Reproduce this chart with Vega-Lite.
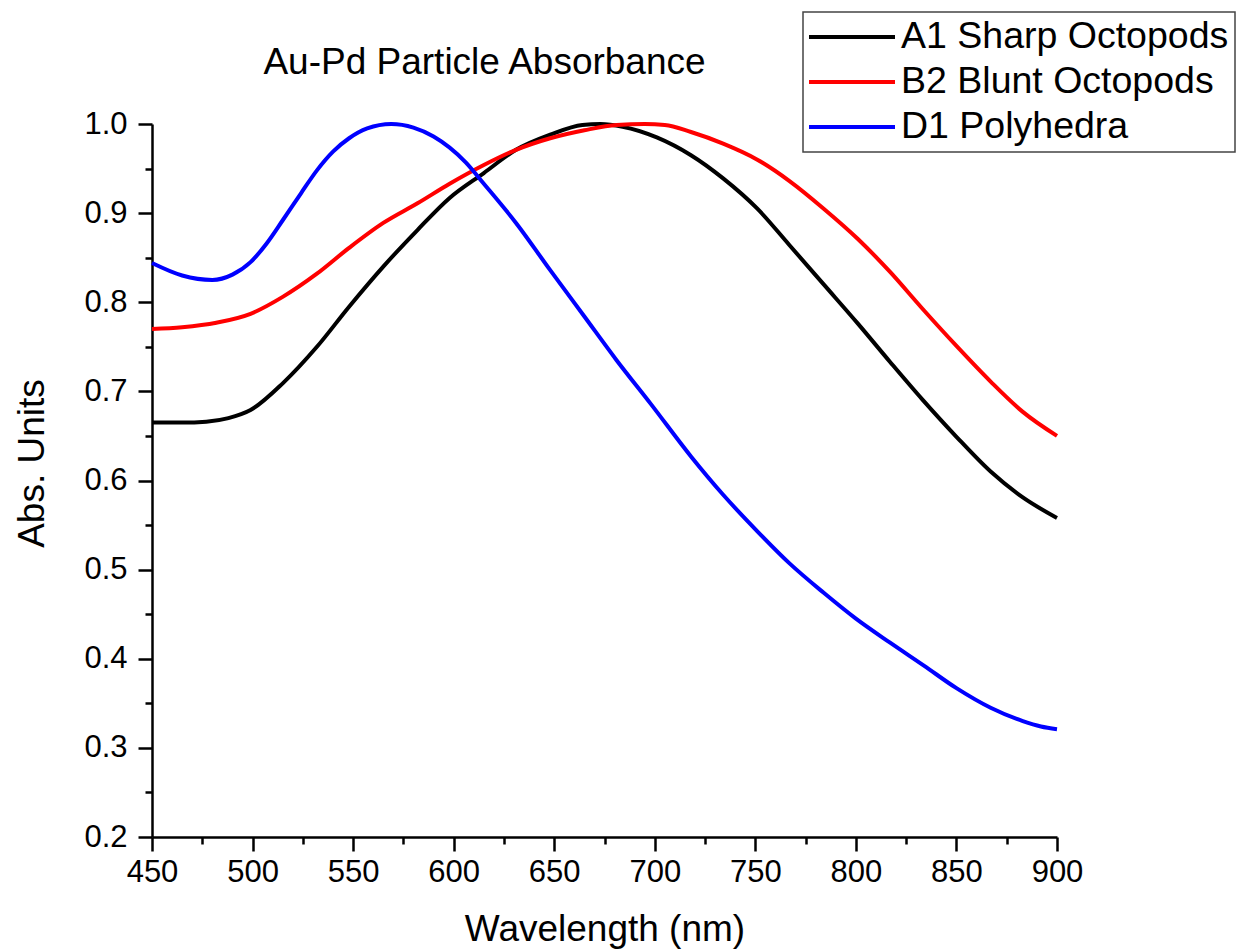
{
  "$schema": "https://vega.github.io/schema/vega-lite/v6.json",
  "width": 905,
  "height": 713,
  "autosize": {"type": "none"},
  "padding": {"left": 152, "top": 124, "right": 185, "bottom": 114},
  "background": "white",
  "config": {
    "view": {"stroke": null},
    "font": "Liberation Sans",
    "legend": {"strokeWidth": 1.5}
  },
  "title": {
    "text": "Au-Pd Particle Absorbance",
    "fontSize": 37,
    "fontWeight": "normal",
    "color": "black",
    "anchor": "middle",
    "dx": -120,
    "baseline": "alphabetic",
    "offset": -100
  },
  "data": {
    "values": [
      {"series": "A1 Sharp Octopods", "wl": 450, "abs": 0.665},
      {"series": "A1 Sharp Octopods", "wl": 465, "abs": 0.665},
      {"series": "A1 Sharp Octopods", "wl": 477, "abs": 0.666},
      {"series": "A1 Sharp Octopods", "wl": 488, "abs": 0.670},
      {"series": "A1 Sharp Octopods", "wl": 499, "abs": 0.679},
      {"series": "A1 Sharp Octopods", "wl": 515, "abs": 0.709},
      {"series": "A1 Sharp Octopods", "wl": 532, "abs": 0.750},
      {"series": "A1 Sharp Octopods", "wl": 548, "abs": 0.795},
      {"series": "A1 Sharp Octopods", "wl": 565, "abs": 0.840},
      {"series": "A1 Sharp Octopods", "wl": 582, "abs": 0.881},
      {"series": "A1 Sharp Octopods", "wl": 598, "abs": 0.917},
      {"series": "A1 Sharp Octopods", "wl": 615, "abs": 0.945},
      {"series": "A1 Sharp Octopods", "wl": 631, "abs": 0.971},
      {"series": "A1 Sharp Octopods", "wl": 648, "abs": 0.988},
      {"series": "A1 Sharp Octopods", "wl": 664, "abs": 0.999},
      {"series": "A1 Sharp Octopods", "wl": 673, "abs": 1.0},
      {"series": "A1 Sharp Octopods", "wl": 684, "abs": 0.997},
      {"series": "A1 Sharp Octopods", "wl": 701, "abs": 0.985},
      {"series": "A1 Sharp Octopods", "wl": 718, "abs": 0.965},
      {"series": "A1 Sharp Octopods", "wl": 734, "abs": 0.939},
      {"series": "A1 Sharp Octopods", "wl": 751, "abs": 0.905},
      {"series": "A1 Sharp Octopods", "wl": 767, "abs": 0.864},
      {"series": "A1 Sharp Octopods", "wl": 784, "abs": 0.820},
      {"series": "A1 Sharp Octopods", "wl": 801, "abs": 0.776},
      {"series": "A1 Sharp Octopods", "wl": 817, "abs": 0.733},
      {"series": "A1 Sharp Octopods", "wl": 833, "abs": 0.691},
      {"series": "A1 Sharp Octopods", "wl": 850, "abs": 0.649},
      {"series": "A1 Sharp Octopods", "wl": 867, "abs": 0.610},
      {"series": "A1 Sharp Octopods", "wl": 883, "abs": 0.581},
      {"series": "A1 Sharp Octopods", "wl": 900, "abs": 0.558},
      {"series": "B2 Blunt Octopods", "wl": 450, "abs": 0.770},
      {"series": "B2 Blunt Octopods", "wl": 465, "abs": 0.772},
      {"series": "B2 Blunt Octopods", "wl": 482, "abs": 0.777},
      {"series": "B2 Blunt Octopods", "wl": 499, "abs": 0.787},
      {"series": "B2 Blunt Octopods", "wl": 515, "abs": 0.806},
      {"series": "B2 Blunt Octopods", "wl": 532, "abs": 0.832},
      {"series": "B2 Blunt Octopods", "wl": 548, "abs": 0.861},
      {"series": "B2 Blunt Octopods", "wl": 565, "abs": 0.889},
      {"series": "B2 Blunt Octopods", "wl": 582, "abs": 0.911},
      {"series": "B2 Blunt Octopods", "wl": 598, "abs": 0.933},
      {"series": "B2 Blunt Octopods", "wl": 615, "abs": 0.954},
      {"series": "B2 Blunt Octopods", "wl": 631, "abs": 0.971},
      {"series": "B2 Blunt Octopods", "wl": 648, "abs": 0.984},
      {"series": "B2 Blunt Octopods", "wl": 665, "abs": 0.993},
      {"series": "B2 Blunt Octopods", "wl": 681, "abs": 0.999},
      {"series": "B2 Blunt Octopods", "wl": 695, "abs": 1.0},
      {"series": "B2 Blunt Octopods", "wl": 705, "abs": 0.999},
      {"series": "B2 Blunt Octopods", "wl": 718, "abs": 0.991},
      {"series": "B2 Blunt Octopods", "wl": 734, "abs": 0.978},
      {"series": "B2 Blunt Octopods", "wl": 751, "abs": 0.960},
      {"series": "B2 Blunt Octopods", "wl": 767, "abs": 0.936},
      {"series": "B2 Blunt Octopods", "wl": 784, "abs": 0.905},
      {"series": "B2 Blunt Octopods", "wl": 801, "abs": 0.871},
      {"series": "B2 Blunt Octopods", "wl": 817, "abs": 0.834},
      {"series": "B2 Blunt Octopods", "wl": 833, "abs": 0.793},
      {"series": "B2 Blunt Octopods", "wl": 850, "abs": 0.751},
      {"series": "B2 Blunt Octopods", "wl": 867, "abs": 0.711},
      {"series": "B2 Blunt Octopods", "wl": 883, "abs": 0.677},
      {"series": "B2 Blunt Octopods", "wl": 900, "abs": 0.650},
      {"series": "D1 Polyhedra", "wl": 450, "abs": 0.844},
      {"series": "D1 Polyhedra", "wl": 465, "abs": 0.830},
      {"series": "D1 Polyhedra", "wl": 480, "abs": 0.825},
      {"series": "D1 Polyhedra", "wl": 490, "abs": 0.831},
      {"series": "D1 Polyhedra", "wl": 499, "abs": 0.845},
      {"series": "D1 Polyhedra", "wl": 507, "abs": 0.866},
      {"series": "D1 Polyhedra", "wl": 515, "abs": 0.892},
      {"series": "D1 Polyhedra", "wl": 524, "abs": 0.922},
      {"series": "D1 Polyhedra", "wl": 532, "abs": 0.948},
      {"series": "D1 Polyhedra", "wl": 540, "abs": 0.969},
      {"series": "D1 Polyhedra", "wl": 548, "abs": 0.984},
      {"series": "D1 Polyhedra", "wl": 557, "abs": 0.995},
      {"series": "D1 Polyhedra", "wl": 569, "abs": 1.0},
      {"series": "D1 Polyhedra", "wl": 580, "abs": 0.996},
      {"series": "D1 Polyhedra", "wl": 590, "abs": 0.986},
      {"series": "D1 Polyhedra", "wl": 606, "abs": 0.957},
      {"series": "D1 Polyhedra", "wl": 615, "abs": 0.933},
      {"series": "D1 Polyhedra", "wl": 631, "abs": 0.889},
      {"series": "D1 Polyhedra", "wl": 648, "abs": 0.836},
      {"series": "D1 Polyhedra", "wl": 665, "abs": 0.784},
      {"series": "D1 Polyhedra", "wl": 681, "abs": 0.735},
      {"series": "D1 Polyhedra", "wl": 698, "abs": 0.686},
      {"series": "D1 Polyhedra", "wl": 718, "abs": 0.627},
      {"series": "D1 Polyhedra", "wl": 734, "abs": 0.584},
      {"series": "D1 Polyhedra", "wl": 751, "abs": 0.543},
      {"series": "D1 Polyhedra", "wl": 767, "abs": 0.507},
      {"series": "D1 Polyhedra", "wl": 784, "abs": 0.474},
      {"series": "D1 Polyhedra", "wl": 800, "abs": 0.445},
      {"series": "D1 Polyhedra", "wl": 817, "abs": 0.418},
      {"series": "D1 Polyhedra", "wl": 834, "abs": 0.392},
      {"series": "D1 Polyhedra", "wl": 850, "abs": 0.367},
      {"series": "D1 Polyhedra", "wl": 867, "abs": 0.345},
      {"series": "D1 Polyhedra", "wl": 883, "abs": 0.330},
      {"series": "D1 Polyhedra", "wl": 892, "abs": 0.324},
      {"series": "D1 Polyhedra", "wl": 900, "abs": 0.321}
    ]
  },
  "mark": {"type": "line", "strokeWidth": 4, "interpolate": "monotone"},
  "encoding": {
    "x": {
      "field": "wl",
      "type": "quantitative",
      "scale": {"domain": [450, 900], "nice": false, "zero": false},
      "axis": {
        "title": "Wavelength (nm)",
        "values": [450, 475, 500, 525, 550, 575, 600, 625, 650, 675, 700, 725, 750, 775, 800, 825, 850, 875, 900],
        "labelExpr": "datum.value % 50 === 0 ? datum.label : ''",
        "tickSize": {"condition": {"test": "datum.value % 50 === 0", "value": 14}, "value": 7},
        "tickWidth": 2.5,
        "tickColor": "black",
        "domainColor": "black",
        "domainWidth": 2.5,
        "grid": false,
        "labelFontSize": 31,
        "labelColor": "black",
        "labelPadding": 6,
        "labelFlush": false,
        "labelOverlap": false,
        "titleFontSize": 37,
        "titleFontWeight": "normal",
        "titleColor": "black",
        "titleY": 103,
        "titleBaseline": "alphabetic"
      }
    },
    "y": {
      "field": "abs",
      "type": "quantitative",
      "scale": {"domain": [0.2, 1.0], "nice": false, "zero": false},
      "axis": {
        "title": "Abs. Units",
        "values": [0.2, 0.25, 0.3, 0.35, 0.4, 0.45, 0.5, 0.55, 0.6, 0.65, 0.7, 0.75, 0.8, 0.85, 0.9, 0.95, 1.0],
        "format": ".1f",
        "labelExpr": "round(datum.value * 20) % 2 === 0 ? datum.label : ''",
        "tickSize": {"condition": {"test": "round(datum.value * 20) % 2 === 0", "value": 14}, "value": 7},
        "tickWidth": 2.5,
        "tickColor": "black",
        "domainColor": "black",
        "domainWidth": 2.5,
        "grid": false,
        "labelFontSize": 31,
        "labelColor": "black",
        "labelPadding": 11,
        "labelFlush": false,
        "labelOverlap": false,
        "titleFontSize": 37,
        "titleFontWeight": "normal",
        "titleColor": "black",
        "titleX": -109,
        "titleY": 339,
        "titleAlign": "center",
        "titleBaseline": "alphabetic"
      }
    },
    "color": {
      "field": "series",
      "type": "nominal",
      "scale": {
        "domain": ["A1 Sharp Octopods", "B2 Blunt Octopods", "D1 Polyhedra"],
        "range": ["#000000", "#ff0000", "#0000ff"]
      },
      "legend": {
        "title": null,
        "orient": "none",
        "legendX": 651,
        "legendY": -112,
        "symbolType": "stroke",
        "symbolSize": 7744,
        "symbolStrokeWidth": 4,
        "symbolOffset": -4,
        "clipHeight": 38,
        "labelFontSize": 37.5,
        "labelColor": "black",
        "labelOffset": 4,
        "labelLimit": 0,
        "padding": 6,
        "rowPadding": 7,
        "strokeColor": "#444444",
        "fillColor": "white"
      }
    }
  }
}
